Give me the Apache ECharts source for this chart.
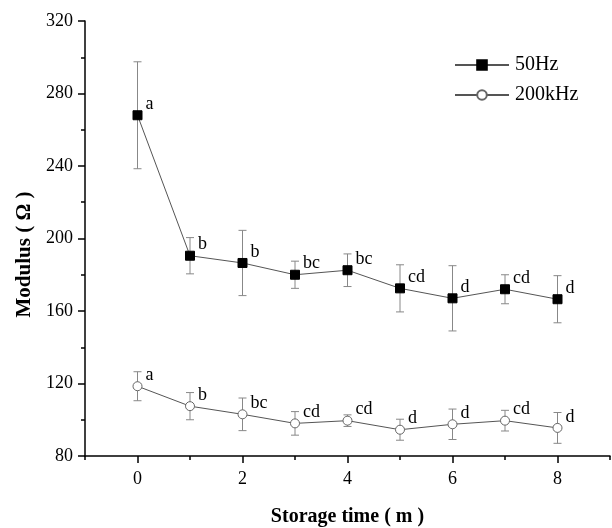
<!DOCTYPE html>
<html>
<head>
<meta charset="utf-8">
<script src="https://cdn.jsdelivr.net/npm/echarts@6/dist/echarts.min.js"></script>
<style>
  html, body { margin: 0; padding: 0; background: #fff; }
  #chart { width: 612px; height: 528px; }
</style>
</head>
<body>
<div id="chart"></div>
<script>
// storage time (months)
const months = [0, 1, 2, 3, 4, 5, 6, 7, 8];

// 50Hz modulus, mean and error
const hz50Mean = [268, 190.5, 186.5, 180, 182.5, 172.5, 167, 172, 166.5];
const hz50Err = [29.5, 10, 18, 7.5, 9, 13, 18, 8, 13];
const hz50Letters = ['a', 'b', 'b', 'bc', 'bc', 'cd', 'd', 'cd', 'd'];

// 200kHz modulus, mean and error
const khz200Mean = [118.5, 107.5, 103, 98, 99.5, 94.5, 97.5, 99.5, 95.5];
const khz200Err = [8, 7.5, 9, 6.5, 3.2, 5.8, 8.4, 5.7, 8.5];
const khz200Letters = ['a', 'b', 'bc', 'cd', 'cd', 'd', 'd', 'cd', 'd'];

const xTicks = [0, 2, 4, 6, 8];

const FONT = '"Liberation Serif", "Times New Roman", serif';
const LINE = '#555';
const ERR = '#888';

const chart = echarts.init(document.getElementById('chart'), null, { renderer: 'canvas' });

// error bars drawn through the axes
function errBars(mean, err) {
  return {
    type: 'custom',
    silent: true,
    z: 1,
    data: months.map((m, i) => [m, mean[i] - err[i], mean[i] + err[i]]),
    renderItem: (params, api) => {
      const lo = api.coord([api.value(0), api.value(1)]);
      const hi = api.coord([api.value(0), api.value(2)]);
      const w = 4;
      const style = { stroke: ERR, lineWidth: 1 };
      return {
        type: 'group',
        children: [
          { type: 'line', shape: { x1: lo[0], y1: lo[1], x2: hi[0], y2: hi[1] }, style },
          { type: 'line', shape: { x1: lo[0] - w, y1: lo[1], x2: lo[0] + w, y2: lo[1] }, style },
          { type: 'line', shape: { x1: hi[0] - w, y1: hi[1], x2: hi[0] + w, y2: hi[1] }, style },
        ],
      };
    },
  };
}

function mainSeries(name, mean, letters, symbol, fill, border) {
  return {
    name,
    type: 'line',
    z: 3,
    data: months.map((m, i) => [m, mean[i]]),
    symbol,
    symbolSize: 9,
    showAllSymbol: true,
    lineStyle: { color: LINE, width: 1 },
    itemStyle: { color: fill, borderColor: border, borderWidth: 1 },
    label: {
      show: true,
      position: 'right',
      distance: 3,
      offset: [0, -11],
      color: '#000',
      fontFamily: FONT,
      fontSize: 18,
      formatter: (p) => letters[p.dataIndex],
    },
    emphasis: { disabled: true },
  };
}

const axisBlack = { color: '#000', width: 1.5 };

chart.setOption({
  animation: false,
  backgroundColor: '#fff',
  grid: { left: 85, right: 2, top: 21, bottom: 72, containLabel: false, outerBoundsMode: 'none' },
  legend: {
    orient: 'vertical',
    left: 449,
    top: 50,
    itemWidth: 54,
    itemHeight: 12,
    itemGap: 10,
    textStyle: { fontFamily: FONT, fontSize: 20, color: '#000', padding: [0, 0, 0, 1] },
    data: ['50Hz', '200kHz'],
  },
  xAxis: [
    {
      type: 'value',
      position: 'bottom',
      min: -1,
      max: 9,
      interval: 1,
      name: 'Storage time ( m )',
      nameLocation: 'middle',
      nameGap: 51,
      nameTextStyle: { fontFamily: FONT, fontSize: 20, fontWeight: 'bold', color: '#000' },
      axisLine: { onZero: false, lineStyle: axisBlack },
      axisTick: { inside: false, length: 4, lineStyle: axisBlack },
      axisLabel: {
        fontFamily: FONT, fontSize: 18, color: '#000', margin: 14,
        formatter: (v) => (xTicks.includes(v) ? String(v) : ''),
      },
      splitLine: { show: false },
    },
    {
      // longer ticks on the labelled values
      type: 'value',
      position: 'bottom',
      min: -1,
      max: 9,
      axisLine: { show: false, onZero: false },
      axisTick: { show: true, inside: false, length: 7, customValues: xTicks, lineStyle: axisBlack },
      axisLabel: { show: false },
      splitLine: { show: false },
    },
  ],
  yAxis: {
    type: 'value',
    min: 80,
    max: 320,
    interval: 40,
    name: 'Modulus ( Ω )',
    nameLocation: 'middle',
    nameGap: 44,
    // pushed a little below the middle, as in the original
    nameTextStyle: { fontFamily: FONT, fontSize: 21, fontWeight: 'bold', color: '#000', padding: [0, 32, 0, 0] },
    axisLine: { show: true, onZero: false, lineStyle: axisBlack },
    axisTick: { show: true, inside: false, length: 7, lineStyle: axisBlack },
    minorTick: { show: true, splitNumber: 2, length: 4, lineStyle: axisBlack },
    axisLabel: { fontFamily: FONT, fontSize: 18, color: '#000', margin: 12 },
    splitLine: { show: false },
  },
  series: [
    errBars(hz50Mean, hz50Err),
    errBars(khz200Mean, khz200Err),
    mainSeries('50Hz', hz50Mean, hz50Letters, 'rect', '#000', '#000'),
    mainSeries('200kHz', khz200Mean, khz200Letters, 'circle', '#fff', '#666'),
  ],
});
</script>
</body>
</html>
